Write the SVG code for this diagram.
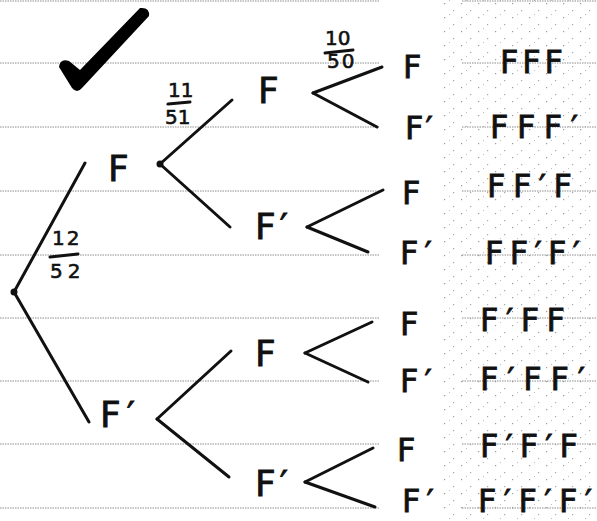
<svg xmlns="http://www.w3.org/2000/svg" width="597" height="521" viewBox="0 0 597 521">
<defs>
<pattern id="stip" width="17" height="14" patternUnits="userSpaceOnUse">
<rect x="2" y="3" width="1.2" height="1.2" fill="#9a9a9a"/>
<rect x="11" y="10" width="1.2" height="1.2" fill="#a8a8a8"/>
<rect x="7" y="0" width="1" height="1" fill="#bdbdbd"/>
</pattern>
<style>
.rule{stroke:#8c8c8c;stroke-width:1;stroke-dasharray:1.5 1;fill:none}
.e{stroke:#111;stroke-width:3;stroke-linecap:round;fill:none}
.t{font-family:"DejaVu Sans","Liberation Sans",sans-serif;fill:#111;stroke:#111;stroke-width:0.8}
.l1{font-size:36px}
.l3{font-size:32px}
.o{font-size:32px}
.fr{font-size:20px;font-family:"DejaVu Sans","Liberation Sans",sans-serif;fill:#111;stroke:#111;stroke-width:0.6}
</style>
</defs>
<rect width="597" height="521" fill="#fff"/>
<rect x="442" y="0" width="155" height="521" fill="url(#stip)"/>
<g id="rules">
<path class="rule" d="M0 1H380M462 1H597M0 63H380M462 63H597M0 127H380M462 127H597M0 191H380M462 191H597M0 255H380M462 255H597M0 318H380M462 318H597M0 381H380M462 381H597M0 444H380M462 444H597M0 508H380M462 508H597"/>
</g>
<path id="check" d="M59 67Q60 58 69 61L80 70L140 8Q150 7 149 16L82 88Q77 94 72 88Z" fill="#000"/>
<g id="connectors">
<line class="e" x1="14" y1="292" x2="85" y2="163"/>
<line class="e" x1="14" y1="292" x2="89" y2="422"/>
<line class="e" x1="160" y1="164" x2="232" y2="100"/>
<line class="e" x1="160" y1="164" x2="230" y2="227"/>
<line class="e" x1="157" y1="419" x2="231" y2="351"/>
<line class="e" x1="157" y1="419" x2="229" y2="477"/>
<line class="e" x1="313" y1="93" x2="382" y2="67"/>
<line class="e" x1="313" y1="93" x2="377" y2="127"/>
<line class="e" x1="307" y1="227" x2="383" y2="190"/>
<line class="e" x1="307" y1="227" x2="368" y2="252"/>
<line class="e" x1="305" y1="353" x2="372" y2="322"/>
<line class="e" x1="305" y1="353" x2="368" y2="382"/>
<line class="e" x1="305" y1="482" x2="373" y2="448"/>
<line class="e" x1="305" y1="482" x2="375" y2="507"/>
<circle cx="14" cy="292" r="3.5" fill="#111"/>
<circle cx="160" cy="164" r="3.5" fill="#111"/>
</g>
<g id="labels">
<text class="fr" x="52" y="245" letter-spacing="2">12</text>
<line class="e" x1="50" y1="257" x2="78" y2="254"/>
<text class="fr" x="50" y="278" letter-spacing="5">52</text>
<text class="fr" x="168" y="97">11</text>
<line class="e" x1="168" y1="104" x2="190" y2="102"/>
<text class="fr" x="165" y="124">51</text>
<text class="fr" x="325" y="45">10</text>
<line class="e" x1="325" y1="53" x2="353" y2="50"/>
<text class="fr" x="327" y="68" letter-spacing="2">50</text>
</g>
<g id="n1F"><text class="t l1" x="108" y="181">F</text></g>
<g id="n1Fp"><text class="t l1" x="100" y="427" letter-spacing="6">F′</text></g>
<g id="n2F"><text class="t l1" x="258" y="103">F</text></g>
<g id="n2Fp"><text class="t l1" x="255" y="239" letter-spacing="4">F′</text></g>
<g id="n2pF"><text class="t l1" x="255" y="366">F</text></g>
<g id="n2pFp"><text class="t l1" x="255" y="496" letter-spacing="4">F′</text></g>
<g id="n3a"><text class="t l3" x="403" y="78">F</text></g>
<g id="n3b"><text class="t l3" x="405" y="139" letter-spacing="2">F′</text></g>
<g id="n3c"><text class="t l3" x="402" y="204">F</text></g>
<g id="n3d"><text class="t l3" x="400" y="264" letter-spacing="6">F′</text></g>
<g id="n3e"><text class="t l3" x="400" y="335">F</text></g>
<g id="n3f"><text class="t l3" x="400" y="392" letter-spacing="6">F′</text></g>
<g id="n3g"><text class="t l3" x="397" y="461">F</text></g>
<g id="n3h"><text class="t l3" x="402" y="512" letter-spacing="6">F′</text></g>
<g id="o1"><text class="t o" x="500" y="73" textLength="63" lengthAdjust="spacing">FFF</text></g>
<g id="o2"><text class="t o" x="490" y="138" textLength="88" lengthAdjust="spacing">FFF′</text></g>
<g id="o3"><text class="t o" x="487" y="197" textLength="85" lengthAdjust="spacing">FF′F</text></g>
<g id="o4"><text class="t o" x="485" y="264" textLength="95" lengthAdjust="spacing">FF′F′</text></g>
<g id="o5"><text class="t o" x="480" y="331" textLength="85" lengthAdjust="spacing">F′FF</text></g>
<g id="o6"><text class="t o" x="480" y="390" textLength="105" lengthAdjust="spacing">F′FF′</text></g>
<g id="o7"><text class="t o" x="480" y="457" textLength="98" lengthAdjust="spacing">F′F′F</text></g>
<g id="o8"><text class="t o" x="478" y="512" textLength="114" lengthAdjust="spacing">F′F′F′</text></g>
</svg>
